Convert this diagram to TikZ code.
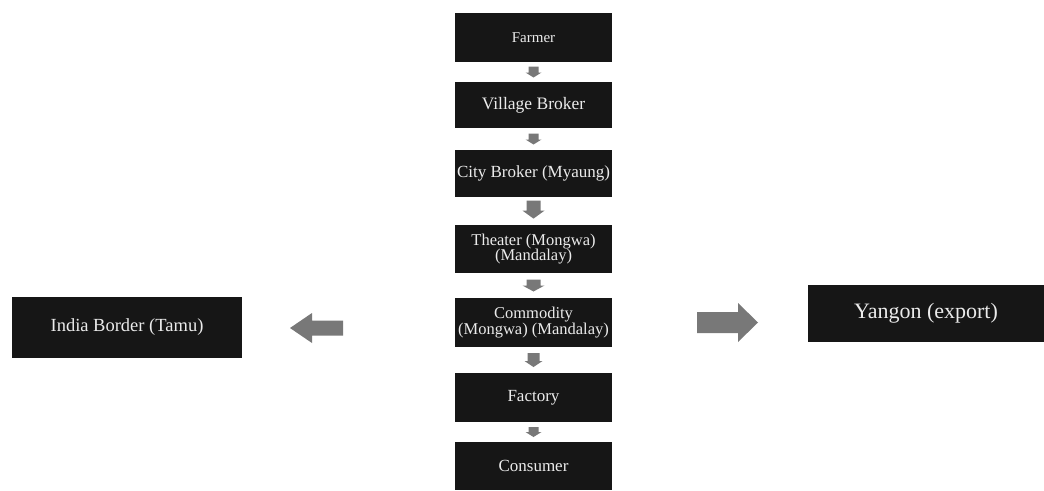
\documentclass[tikz,border=0pt]{standalone}
\usepackage{fontspec}
\setmainfont{Liberation Serif}
\usetikzlibrary{calc}
\definecolor{boxfill}{RGB}{22,22,22}
\definecolor{boxtext}{RGB}{235,235,235}
\definecolor{arrowgray}{RGB}{120,120,120}
\tikzset{
  flowbox/.style={fill=boxfill, draw=none, text=boxtext, align=center, inner sep=0pt,
    minimum width=157pt, font=\fontsize{17}{15.5}\selectfont},
  sidebox/.style={fill=boxfill, draw=none, text=boxtext, align=center, inner sep=0pt}
}
% down block arrow: #1 centre, #2 total length, #3 shaft half width, #4 head half width, #5 head length
\newcommand\downblock[5]{%
  \fill[arrowgray, shift={(#1)}] (-#3,-#2/2) -- (#3,-#2/2) -- (#3,#2/2-#5) -- (#4,#2/2-#5)
    -- (0,#2/2) -- (-#4,#2/2-#5) -- (-#3,#2/2-#5) -- cycle;}
% horizontal block arrow: #1 centre, #2 total length (signed), #3 shaft half height, #4 head half height, #5 head length (signed)
\newcommand\sideblock[5]{%
  \fill[arrowgray, shift={(#1)}] (-#2/2,-#3) -- (#2/2-#5,-#3) -- (#2/2-#5,-#4) -- (#2/2,0)
    -- (#2/2-#5,#4) -- (#2/2-#5,#3) -- (-#2/2,#3) -- cycle;}
\begin{document}
\begin{tikzpicture}[x=1pt,y=-1pt]
\useasboundingbox (0,0) rectangle (1044,490);
% centre column
\node[flowbox, minimum height=49pt, font=\fontsize{15}{15.5}\selectfont] (farmer) at (533.5,37.5) {Farmer};
\node[flowbox, minimum height=46pt, font=\fontsize{17.5}{15.5}\selectfont] (village) at (533.5,105) {Village Broker};
\node[flowbox, minimum height=47pt] (city) at (533.5,173.5) {City Broker (Myaung)};
\node[flowbox, minimum height=48pt, font=\fontsize{16.5}{15.5}\selectfont] (theater) at (533.5,249) {Theater (Mongwa)\\(Mandalay)};
\node[flowbox, minimum height=49pt, font=\fontsize{16.5}{15.5}\selectfont] (commodity) at (533.5,322.5) {Commodity\\(Mongwa) (Mandalay)};
\node[flowbox, minimum height=49pt] (factory) at (533.5,397.5) {Factory};
\node[flowbox, minimum height=48pt] (consumer) at (533.5,466) {Consumer};
% side boxes
\node[sidebox, minimum width=230pt, minimum height=61pt, font=\fontsize{18.5}{20}\selectfont] (india) at (127,327.5) {India Border (Tamu)};
\node[sidebox, minimum width=236pt, minimum height=57pt, font=\fontsize{22}{22}\selectfont] (yangon) at (926,313.5) {Yangon (export)};
% arrow positions
\coordinate (a1) at ($(farmer.south)!0.5!(village.north)$);
\coordinate (a2) at ($(village.south)!0.5!(city.north)$);
\coordinate (a3) at ($(city.south)!0.45!(theater.north)$);
\coordinate (a4) at ($(theater.south)!0.5!(commodity.north)$);
\coordinate (a5) at ($(commodity.south)!0.5!(factory.north)$);
\coordinate (a6) at ($(factory.south)!0.5!(consumer.north)$);
\coordinate (al) at (316.5,328);
\coordinate (ar) at (727.5,322.5);
\downblock{a1}{11}{5}{8}{5}
\downblock{a2}{11}{5}{8}{5}
\downblock{a3}{18}{7}{11}{8}
\downblock{a4}{12}{7}{11}{6}
\downblock{a5}{14}{6}{9}{6}
\downblock{a6}{10}{5}{8}{5}
\sideblock{al}{-53}{7.5}{15}{-22}
\sideblock{ar}{61}{10.5}{19.5}{20}
\end{tikzpicture}
\end{document}
